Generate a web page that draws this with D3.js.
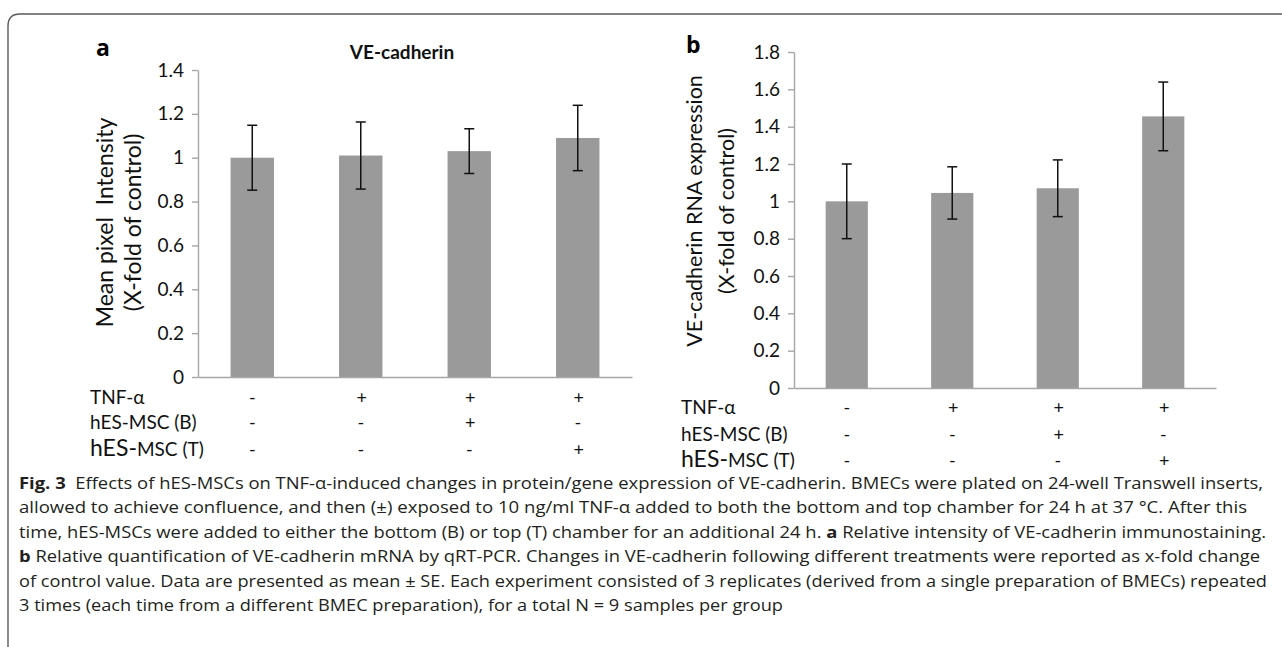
<!DOCTYPE html>
<html>
<head>
<meta charset="utf-8">
<script src="https://cdn.jsdelivr.net/npm/d3@7/dist/d3.min.js"></script>
<style>
  html, body { margin: 0; padding: 0; background: #fff; }
  svg { display: block; }
</style>
</head>
<body>
<script>
// ---- data ----
const categories = ["c1", "c2", "c3", "c4"];
const tnfRow  = ["-", "+", "+", "+"];
const mscBRow = ["-", "-", "+", "-"];
const mscTRow = ["-", "-", "-", "+"];
const valuesA = [1.00, 1.01, 1.03, 1.09];
const errorsA = [0.148, 0.153, 0.102, 0.149];
const valuesB = [1.00, 1.045, 1.07, 1.455];
const errorsB = [0.20, 0.14, 0.152, 0.184];
const ticksA = [0, 0.2, 0.4, 0.6, 0.8, 1, 1.2, 1.4];
const ticksB = [0, 0.2, 0.4, 0.6, 0.8, 1, 1.2, 1.4, 1.6, 1.8];
const captionLines = [
  [["Fig. 3", true], ["  Effects of hES-MSCs on TNF-α-induced changes in protein/gene expression of VE-cadherin. BMECs were plated on 24-well Transwell inserts,", false]],
  [["allowed to achieve confluence, and then (±) exposed to 10 ng/ml TNF-α added to both the bottom and top chamber for 24 h at 37 °C. After this", false]],
  [["time, hES-MSCs were added to either the bottom (B) or top (T) chamber for an additional 24 h. ", false], ["a", true], [" Relative intensity of VE-cadherin immunostaining.", false]],
  [["b", true], [" Relative quantification of VE-cadherin mRNA by qRT-PCR. Changes in VE-cadherin following different treatments were reported as x-fold change", false]],
  [["of control value. Data are presented as mean ± SE. Each experiment consisted of 3 replicates (derived from a single preparation of BMECs) repeated", false]],
  [["3 times (each time from a different BMEC preparation), for a total N = 9 samples per group", false]]
];
const captionRight = [1263, 1247, 1266, 1260, 1267, 783];

const W = 1282, H = 647;
const svg = d3.select("body").append("svg").attr("width", W).attr("height", H);
const FONT = "Lato, 'Open Sans', sans-serif";

// frame
svg.append("path")
  .attr("d", `M8,${H + 2} L8,26 Q8,14 20,14 L${W + 2},14`)
  .attr("fill", "none").attr("stroke", "#5a5a5a").attr("stroke-width", 1.4);

function panel(cfg) {
  const g = svg.append("g");
  const x = d3.scaleBand().domain(categories).range([cfg.x0, cfg.x1])
    .paddingInner(0.6).paddingOuter(0.3);
  const y = d3.scaleLinear().domain([0, cfg.max]).range([cfg.yb, cfg.yt]);

  const yAxis = d3.axisLeft(y).tickValues(cfg.ticks)
    .tickFormat(d => String(+d.toFixed(1))).tickSize(6).tickSizeOuter(0).tickPadding(8);
  const ya = g.append("g").attr("transform", `translate(${cfg.x0},0)`).call(yAxis);
  ya.select(".domain").attr("stroke", "#a6a6a6").attr("stroke-width", 1.4);
  ya.selectAll(".tick line").attr("stroke", "#a6a6a6").attr("stroke-width", 1.4);
  ya.selectAll(".tick text").attr("font-family", FONT).attr("font-size", 19).attr("fill", "#111");

  // bars
  g.selectAll("rect.bar").data(cfg.values).join("rect")
    .attr("class", "bar")
    .attr("x", (d, i) => x(categories[i]))
    .attr("width", x.bandwidth())
    .attr("y", d => y(d))
    .attr("height", d => y(0) - y(d))
    .attr("fill", "#9a9a9a");

  const xAxis = d3.axisBottom(x).tickSize(0).tickSizeOuter(0).tickFormat("");
  const xa = g.append("g").attr("transform", `translate(0,${cfg.yb})`).call(xAxis);
  xa.select(".domain").attr("stroke", "#a6a6a6").attr("stroke-width", 1.4);

  // error bars
  const eg = g.append("g").attr("stroke", "#111").attr("stroke-width", 1.5);
  cfg.values.forEach((v, i) => {
    const cx = x(categories[i]) + x.bandwidth() / 2;
    const e = cfg.errors[i];
    eg.append("line").attr("x1", cx).attr("x2", cx).attr("y1", y(v + e)).attr("y2", y(v - e));
    eg.append("line").attr("x1", cx - 5).attr("x2", cx + 5).attr("y1", y(v + e)).attr("y2", y(v + e));
    eg.append("line").attr("x1", cx - 5).attr("x2", cx + 5).attr("y1", y(v - e)).attr("y2", y(v - e));
  });

  // panel letter
  g.append("text").attr("x", cfg.letterX).attr("y", cfg.letterY)
    .attr("font-family", "'Open Sans', Lato, sans-serif").attr("font-weight", "bold").attr("font-size", 23)
    .attr("fill", "#000").text(cfg.letter);

  // y label
  const cy = (cfg.yb + cfg.yt) / 2 + cfg.labelDy;
  cfg.ylabel.forEach((t, k) => {
    g.append("text")
      .attr("transform", `translate(${cfg.labelX[k]},${cy}) rotate(-90)`)
      .attr("text-anchor", "middle").attr("dominant-baseline", "central")
      .attr("font-family", FONT).attr("font-size", cfg.labelSize).attr("fill", "#111").text(t);
  });

  // row labels
  const rows = [tnfRow, mscBRow, mscTRow];
  rows.forEach((row, r) => {
    const ry = cfg.rowY[r];
    const lab = g.append("text").attr("x", cfg.rowX).attr("y", ry)
      .attr("font-family", FONT).attr("font-size", 19).attr("fill", "#111");
    if (r === 0) lab.text("TNF-α");
    else if (r === 1) lab.text("hES-MSC (B)");
    else {
      lab.append("tspan").attr("font-size", 23).text("hES-");
      lab.append("tspan").text("MSC (T)");
    }
    row.forEach((s, i) => {
      g.append("text").attr("x", x(categories[i]) + x.bandwidth() / 2 + (s === "+" ? 1 : 0)).attr("y", ry)
        .attr("text-anchor", "middle").attr("font-family", FONT).attr("font-size", 18)
        .attr("fill", "#111").text(s);
    });
  });
  return { x, y, g };
}

const pa = panel({
  x0: 198, x1: 632, yb: 377, yt: 70, max: 1.4, ticks: ticksA,
  values: valuesA, errors: errorsA,
  letter: "a", letterX: 96, letterY: 56,
  ylabel: ["Mean pixel\u00a0 Intensity", "(X-fold of control)"], labelX: [104, 132], labelDy: -1, labelSize: 23,
  rowX: 90, rowY: [404, 429, 456]
});
pa.g.append("text").attr("x", 402).attr("y", 59).attr("text-anchor", "middle")
  .attr("font-family", FONT).attr("font-weight", "bold").attr("font-size", 19).attr("fill", "#111")
  .text("VE-cadherin");

panel({
  x0: 794, x1: 1216, yb: 388, yt: 52, max: 1.8, ticks: ticksB,
  values: valuesB, errors: errorsB,
  letter: "b", letterX: 686, letterY: 53,
  ylabel: ["VE-cadherin RNA expression", "(X-fold of control)"], labelX: [694, 726], labelDy: -9, labelSize: 21.5,
  rowX: 681, rowY: [414, 441, 467]
});

// caption
const cap = svg.append("g").attr("font-family", "'Open Sans', 'Noto Sans', sans-serif")
  .attr("font-size", 15.5).attr("fill", "#231f20");
captionLines.forEach((parts, i) => {
  const t = cap.append("text").attr("x", 19).attr("y", 489 + i * 24.4)
    .attr("textLength", captionRight[i] - 19).attr("lengthAdjust", "spacingAndGlyphs")
    .attr("xml:space", "preserve");
  parts.forEach(([s, b]) => {
    t.append("tspan").attr("font-weight", b ? "bold" : null).text(s);
  });
});
</script>
</body>
</html>
